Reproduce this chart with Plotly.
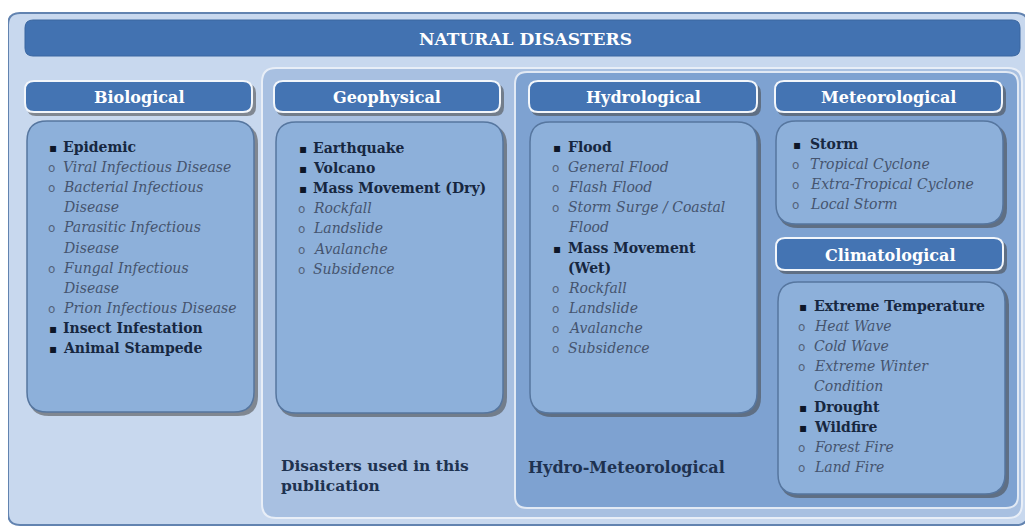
import plotly.graph_objects as go

# ---- content ----
TITLE = "NATURAL DISASTERS"
CATEGORIES = ["Biological", "Geophysical", "Hydrological", "Meteorological", "Climatological"]

# (text, level) level 0 = main (bold), 1 = sub (italic); '\n' = wrapped continuation line
BIOLOGICAL = [("Epidemic", 0), ("Viral Infectious Disease", 1), ("Bacterial Infectious\nDisease", 1),
              ("Parasitic Infectious\nDisease", 1), ("Fungal Infectious\nDisease", 1),
              ("Prion Infectious Disease", 1), ("Insect Infestation", 0), ("Animal Stampede", 0)]
GEOPHYSICAL = [("Earthquake", 0), ("Volcano", 0), ("Mass Movement (Dry)", 0), ("Rockfall", 1),
               ("Landslide", 1), ("Avalanche", 1), ("Subsidence", 1)]
HYDROLOGICAL = [("Flood", 0), ("General Flood", 1), ("Flash Flood", 1), ("Storm Surge / Coastal\nFlood", 1),
                ("Mass Movement\n(Wet)", 0), ("Rockfall", 1), ("Landslide", 1), ("Avalanche", 1), ("Subsidence", 1)]
METEOROLOGICAL = [("Storm", 0), ("Tropical Cyclone", 1), ("Extra-Tropical Cyclone", 1), ("Local Storm", 1)]
CLIMATOLOGICAL = [("Extreme Temperature", 0), ("Heat Wave", 1), ("Cold Wave", 1), ("Extreme Winter\nCondition", 1),
                  ("Drought", 0), ("Wildfire", 0), ("Forest Fire", 1), ("Land Fire", 1)]
USED_LABEL = "Disasters used in this<br>publication"
HYDROMET_LABEL = "Hydro-Meteorological"

W, H = 1033, 529
OFF = 8  # page body margin compensation
FONT = "DejaVu Serif"
C_OUTER = "#c8d8ee"
C_USED = "#a8c0e1"
C_HYDRO = "#7ea2d1"
C_HEAD = "#4474b3"
C_BOX = "#8db0da"
C_MAIN = "#172740"
C_SUB = "#45546e"

shapes = []
annotations = []


def rr(x0, y0, x1, y1, r):
    return (f"M{x0+r},{y0} L{x1-r},{y0} Q{x1},{y0} {x1},{y0+r} L{x1},{y1-r} "
            f"Q{x1},{y1} {x1-r},{y1} L{x0+r},{y1} Q{x0},{y1} {x0},{y1-r} "
            f"L{x0},{y0+r} Q{x0},{y0} {x0+r},{y0} Z")


def box(x0, y0, x1, y1, r, fill, line="rgba(0,0,0,0)", lw=0, shadow=False):
    if shadow:
        shapes.append(dict(type="path", path=rr(x0 + 2, y0 + 3, x1 + 4, y1 + 4, r),
                           fillcolor="rgba(70,70,70,0.55)", line=dict(width=0), layer="above"))
    shapes.append(dict(type="path", path=rr(x0, y0, x1, y1, r), fillcolor=fill,
                       line=dict(color=line, width=lw), layer="above"))


def text(x, y, s, size, color, bold=False, italic=False, xanchor="left", family=FONT):
    if bold:
        s = f"<b>{s}</b>"
    if italic:
        s = f"<i>{s}</i>"
    annotations.append(dict(x=x, y=y, xref="x", yref="y", text=s, showarrow=False,
                            xanchor=xanchor, yanchor="middle", align="left",
                            font=dict(family=family, size=size, color=color)))


def header(x0, y0, x1, y1, label):
    box(x0, y0, x1, y1, 9, C_HEAD, line="#f2f6fb", lw=2, shadow=True)
    text((x0 + x1) / 2, (y0 + y1) / 2 + 1, label, 16, "white", bold=True, xanchor="center")


def content(x0, y0, x1, y1, items, bx, tx, ystart):
    box(x0, y0, x1, y1, 20, C_BOX, line="#56769f", lw=1.5, shadow=True)
    y = ystart
    for label, lvl in items:
        lines = label.split("\n")
        if lvl == 0:
            text(bx, y + 1, "▪", 12, "#0d1628", family="DejaVu Sans")
        else:
            text(bx - 1, y + 1, "o", 12, "#55637a", family="DejaVu Sans")
        for ln in lines:
            if lvl == 0:
                text(tx, y, ln, 14, C_MAIN, bold=True)
            else:
                text(tx, y, ln, 14, C_SUB, italic=True)
            y += 20.1


# outer frame
box(8, 13, 1028, 525, 12, C_OUTER, line="#6283b0", lw=2)
# title bar
box(25, 20, 1020, 56, 8, "#4272b1", line="#3a66a0", lw=1)
text(525, 39, TITLE, 17, "white", bold=True, xanchor="center")
# used-in-publication panel
box(262, 68, 1022, 518, 14, C_USED, line="#e8eef7", lw=2)
# hydro-meteorological panel
box(515, 72, 1018, 508, 12, C_HYDRO, line="#e1e9f4", lw=2)

header(25, 81, 252, 112, CATEGORIES[0])
header(274, 81, 500, 112, CATEGORIES[1])
header(529, 81, 757, 112, CATEGORIES[2])
header(775, 81, 1002, 112, CATEGORIES[3])
header(776, 238, 1003, 270, CATEGORIES[4])

content(27, 121, 254, 412, BIOLOGICAL, 47, 61, 147)
content(276, 122, 503, 413, GEOPHYSICAL, 297, 311, 148)
content(530, 122, 757, 413, HYDROLOGICAL, 551, 566, 147)
content(776, 121, 1003, 224, METEOROLOGICAL, 791, 808, 144)
content(778, 282, 1005, 494, CLIMATOLOGICAL, 797, 812, 306)

annotations.append(dict(x=279, y=475, xref="x", yref="y", text=f"<b>{USED_LABEL}</b>", showarrow=False,
                        xanchor="left", yanchor="middle", align="left",
                        font=dict(family=FONT, size=15.5, color="#1e3250")))
text(526, 467, HYDROMET_LABEL, 16, "#1e3250", bold=True)

fig = go.Figure()
fig.update_layout(
    width=W, height=H, margin=dict(l=0, r=0, t=0, b=0),
    paper_bgcolor="white", plot_bgcolor="white",
    xaxis=dict(range=[OFF, W + OFF], visible=False, fixedrange=True),
    yaxis=dict(range=[H + OFF, OFF], visible=False, fixedrange=True),
    shapes=shapes, annotations=annotations, showlegend=False,
)
fig.write_html("out.html")
